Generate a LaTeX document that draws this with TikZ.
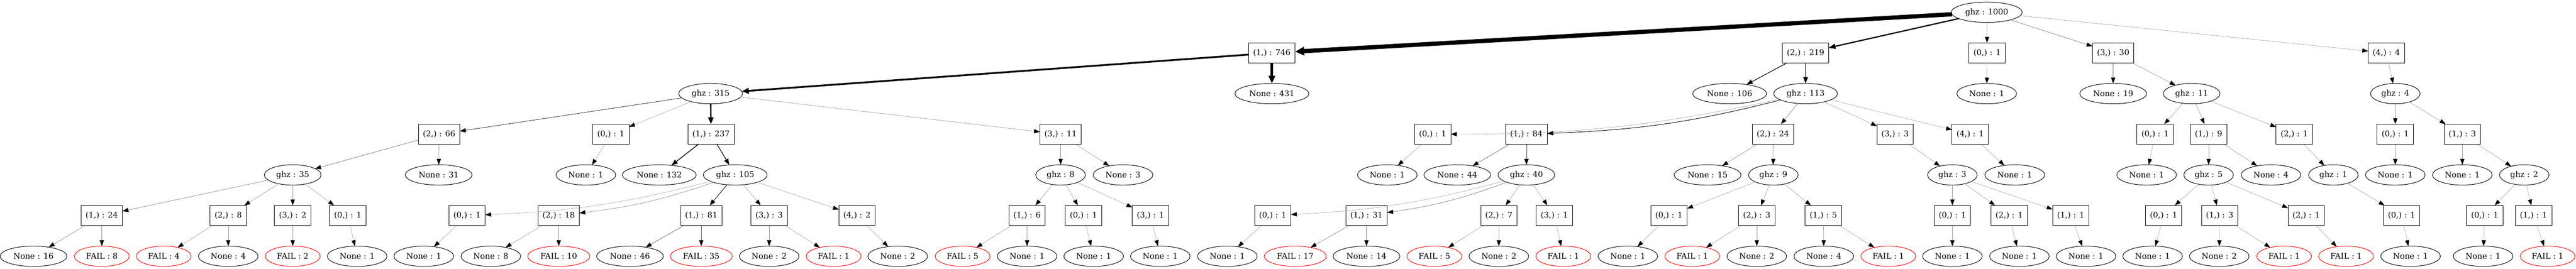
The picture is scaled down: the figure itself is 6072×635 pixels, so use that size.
\documentclass[tikz,border=0pt]{standalone}
\usepackage{fontspec}
\usetikzlibrary{arrows.meta}
\usetikzlibrary{shapes.geometric}
\newfontfamily\gvfont{DejaVu Serif}
\colorlet{failred}{red}

\tikzset{
  gnode/.style={draw, line width=0.9pt, font=\gvfont\fontsize{14pt}{16pt}\selectfont,
    minimum height=36pt, inner ysep=0pt, outer sep=0pt},
  act/.style={gnode, rectangle, inner xsep=8pt, minimum width=54pt},
  res/.style={gnode, ellipse, inner xsep=6.3pt, minimum width=54pt},
  fail/.style={res, draw=failred},
  edge/.style={line width={max(#1/100,0.5)*1pt},
    -{Triangle[length=10pt 0.8, width=7pt 1, color=black]}}
}

\begin{document}
\begin{tikzpicture}[x=0.75pt,y=0.75pt]
    \useasboundingbox (0,0) rectangle (6072,-635);
    % Nodes, rank 0 and 1
    \node[res] (g) at (4683,-29) {ghz : 1000};
    \node[act] (g1) at (2998,-125) {(1,) : 746};
    \node[act] (g2) at (4256,-125) {(2,) : 219};
    \node[act] (g0) at (4684,-125) {(0,) : 1};
    \node[act] (g3) at (4981,-125) {(3,) : 30};
    \node[act] (g4) at (5625,-125) {(4,) : 4};
    % rank 2
    \node[res] (g1g) at (1675,-221) {ghz : 315};
    \node[res] (g1n) at (2998,-221) {None : 431};
    \node[res] (g2n) at (4077,-221) {None : 106};
    \node[res] (g2g) at (4256,-221) {ghz : 113};
    \node[res] (g0n) at (4683,-221) {None : 1};
    \node[res] (g3n) at (4981,-221) {None : 19};
    \node[res] (g3g) at (5166,-221) {ghz : 11};
    \node[res] (g4g) at (5646,-221) {ghz : 4};
    % rank 3
    \node[act] (g1g2) at (1035,-317) {(2,) : 66};
    \node[act] (g1g0) at (1440,-317) {(0,) : 1};
    \node[act] (g1g1) at (1676,-317) {(1,) : 237};
    \node[act] (g1g3) at (2500,-317) {(3,) : 11};
    \node[act] (g2g0) at (3377,-317) {(0,) : 1};
    \node[act] (g2g1) at (3598,-317) {(1,) : 84};
    \node[act] (g2g2) at (4179,-317) {(2,) : 24};
    \node[act] (g2g3) at (4467,-317) {(3,) : 3};
    \node[act] (g2g4) at (4644,-317) {(4,) : 1};
    \node[act] (g3g0) at (5080,-317) {(0,) : 1};
    \node[act] (g3g1) at (5206,-317) {(1,) : 9};
    \node[act] (g3g2) at (5408,-317) {(2,) : 1};
    \node[act] (g4g0) at (5646,-317) {(0,) : 1};
    \node[act] (g4g1) at (5804,-317) {(1,) : 3};
    % rank 4
    \node[res] (g1g2g) at (690,-413) {ghz : 35};
    \node[res] (g1g2n) at (1034,-413) {None : 31};
    \node[res] (g1g0n) at (1381,-413) {None : 1};
    \node[res] (g1g1n) at (1554,-413) {None : 132};
    \node[res] (g1g1g) at (1733,-413) {ghz : 105};
    \node[res] (g1g3g) at (2500,-413) {ghz : 8};
    \node[res] (g1g3n) at (2647,-413) {None : 3};
    \node[res] (g2g0n) at (3270,-413) {None : 1};
    \node[res] (g2g1n) at (3435,-413) {None : 44};
    \node[res] (g2g1g) at (3598,-413) {ghz : 40};
    \node[res] (g2g2n) at (4025,-413) {None : 15};
    \node[res] (g2g2g) at (4180,-413) {ghz : 9};
    \node[res] (g2g3g) at (4602,-413) {ghz : 3};
    \node[res] (g2g4n) at (4749,-413) {None : 1};
    \node[res] (g3g0n) at (5060,-413) {None : 1};
    \node[res] (g3g1g) at (5206,-413) {ghz : 5};
    \node[res] (g3g1n) at (5353,-413) {None : 4};
    \node[res] (g3g2g) at (5500,-413) {ghz : 1};
    \node[res] (g4g0n) at (5646,-413) {None : 1};
    \node[res] (g4g1n) at (5804,-413) {None : 1};
    \node[res] (g4g1g) at (5950,-413) {ghz : 2};
    % rank 5
    \node[act] (g1g2g1) at (240,-509) {(1,) : 24};
    \node[act] (g1g2g2) at (538,-509) {(2,) : 8};
    \node[act] (g1g2g3) at (690,-509) {(3,) : 2};
    \node[act] (g1g2g0) at (820,-509) {(0,) : 1};
    \node[act] (g1g1g0) at (1101,-509) {(0,) : 1};
    \node[act] (g1g1g2) at (1317,-509) {(2,) : 18};
    \node[act] (g1g1g1) at (1653,-509) {(1,) : 81};
    \node[act] (g1g1g3) at (1813,-509) {(3,) : 3};
    \node[act] (g1g1g4) at (2020,-509) {(4,) : 2};
    \node[act] (g1g3g1) at (2421,-509) {(1,) : 6};
    \node[act] (g1g3g0) at (2554,-509) {(0,) : 1};
    \node[act] (g1g3g3) at (2712,-509) {(3,) : 1};
    \node[act] (g2g1g0) at (3000,-509) {(0,) : 1};
    \node[act] (g2g1g1) at (3221,-509) {(1,) : 31};
    \node[act] (g2g1g2) at (3533,-509) {(2,) : 7};
    \node[act] (g2g1g3) at (3664,-509) {(3,) : 1};
    \node[act] (g2g2g0) at (3934,-509) {(0,) : 1};
    \node[act] (g2g2g2) at (4141,-509) {(2,) : 3};
    \node[act] (g2g2g1) at (4298,-509) {(1,) : 5};
    \node[act] (g2g3g0) at (4602,-509) {(0,) : 1};
    \node[act] (g2g3g2) at (4736,-509) {(2,) : 1};
    \node[act] (g2g3g1) at (4881,-509) {(1,) : 1};
    \node[act] (g3g1g0) at (5100,-509) {(0,) : 1};
    \node[act] (g3g1g1) at (5232,-509) {(1,) : 3};
    \node[act] (g3g1g2) at (5436,-509) {(2,) : 1};
    \node[act] (g3g2g0) at (5661,-509) {(0,) : 1};
    \node[act] (g4g1g0) at (5857,-509) {(0,) : 1};
    \node[act] (g4g1g1) at (5972,-509) {(1,) : 1};
    % rank 6
    \node[res]  (g1g2g1n) at (79,-605) {None : 16};
    \node[fail] (g1g2g1f) at (240,-605) {FAIL : 8};
    \node[fail] (g1g2g2f) at (386,-605) {FAIL : 4};
    \node[res]  (g1g2g2n) at (538,-605) {None : 4};
    \node[fail] (g1g2g3f) at (690,-605) {FAIL : 2};
    \node[res]  (g1g2g0n) at (842,-605) {None : 1};
    \node[res]  (g1g1g0n) at (999,-605) {None : 1};
    \node[res]  (g1g1g2n) at (1157,-605) {None : 8};
    \node[fail] (g1g1g2f) at (1317,-605) {FAIL : 10};
    \node[res]  (g1g1g1n) at (1485,-605) {None : 46};
    \node[fail] (g1g1g1f) at (1653,-605) {FAIL : 35};
    \node[res]  (g1g1g3n) at (1813,-605) {None : 2};
    \node[fail] (g1g1g3f) at (1965,-605) {FAIL : 1};
    \node[res]  (g1g1g4n) at (2116,-605) {None : 2};
    \node[fail] (g1g3g1f) at (2269,-605) {FAIL : 5};
    \node[res]  (g1g3g1n) at (2421,-605) {None : 1};
    \node[res]  (g1g3g0n) at (2578,-605) {None : 1};
    \node[res]  (g1g3g3n) at (2735,-605) {None : 1};
    \node[res]  (g2g1g0n) at (2893,-605) {None : 1};
    \node[fail] (g2g1g1f) at (3053,-605) {FAIL : 17};
    \node[res]  (g2g1g1n) at (3221,-605) {None : 14};
    \node[fail] (g2g1g2f) at (3381,-605) {FAIL : 5};
    \node[res]  (g2g1g2n) at (3533,-605) {None : 2};
    \node[fail] (g2g1g3f) at (3685,-605) {FAIL : 1};
    \node[res]  (g2g2g0n) at (3837,-605) {None : 1};
    \node[fail] (g2g2g2f) at (3989,-605) {FAIL : 1};
    \node[res]  (g2g2g2n) at (4141,-605) {None : 2};
    \node[res]  (g2g2g1n) at (4299,-605) {None : 4};
    \node[fail] (g2g2g1f) at (4451,-605) {FAIL : 1};
    \node[res]  (g2g3g0n) at (4602,-605) {None : 1};
    \node[res]  (g2g3g2n) at (4760,-605) {None : 1};
    \node[res]  (g2g3g1n) at (4917,-605) {None : 1};
    \node[res]  (g3g1g0n) at (5074,-605) {None : 1};
    \node[res]  (g3g1g1n) at (5231,-605) {None : 2};
    \node[fail] (g3g1g1f) at (5384,-605) {FAIL : 1};
    \node[fail] (g3g1g2f) at (5530,-605) {FAIL : 1};
    \node[res]  (g3g2g0n) at (5682,-605) {None : 1};
    \node[res]  (g4g1g0n) at (5853,-605) {None : 1};
    \node[fail] (g4g1g1f) at (6005,-605) {FAIL : 1};
    % Edges (parent/child/count)
    \foreach \a/\b/\c [evaluate=\c as \k using {int(min(100,40+0.8*\c))}] in {
      g/g1/746, g/g2/219, g/g0/1, g/g3/30, g/g4/4,
      g1/g1g/315, g1/g1n/431, g2/g2n/106, g2/g2g/113, g0/g0n/1,
      g3/g3n/19, g3/g3g/11, g4/g4g/4,
      g1g/g1g2/66, g1g/g1g0/1, g1g/g1g1/237, g1g/g1g3/11,
      g2g/g2g2/24, g2g/g2g3/3, g2g/g2g4/1,
      g3g/g3g0/1, g3g/g3g1/9, g3g/g3g2/1, g4g/g4g0/1, g4g/g4g1/3,
      g1g2/g1g2g/35, g1g2/g1g2n/31, g1g0/g1g0n/1, g1g1/g1g1n/132,
      g1g1/g1g1g/105, g1g3/g1g3g/8, g1g3/g1g3n/3,
      g2g0/g2g0n/1, g2g1/g2g1n/44, g2g1/g2g1g/40, g2g2/g2g2n/15,
      g2g2/g2g2g/9, g2g3/g2g3g/3, g2g4/g2g4n/1,
      g3g0/g3g0n/1, g3g1/g3g1g/5, g3g1/g3g1n/4, g3g2/g3g2g/1,
      g4g0/g4g0n/1, g4g1/g4g1n/1, g4g1/g4g1g/2,
      g1g2g/g1g2g1/24, g1g2g/g1g2g2/8, g1g2g/g1g2g3/2, g1g2g/g1g2g0/1,
      g1g1g/g1g1g1/81, g1g1g/g1g1g3/3, g1g1g/g1g1g4/2,
      g1g3g/g1g3g1/6, g1g3g/g1g3g0/1, g1g3g/g1g3g3/1,
      g2g1g/g2g1g2/7, g2g1g/g2g1g3/1,
      g2g2g/g2g2g0/1, g2g2g/g2g2g2/3, g2g2g/g2g2g1/5,
      g2g3g/g2g3g0/1, g2g3g/g2g3g2/1, g2g3g/g2g3g1/1,
      g3g1g/g3g1g0/1, g3g1g/g3g1g1/3, g3g1g/g3g1g2/1, g3g2g/g3g2g0/1,
      g4g1g/g4g1g0/1, g4g1g/g4g1g1/1,
      g1g2g1/g1g2g1n/16, g1g2g1/g1g2g1f/8, g1g2g2/g1g2g2f/4,
      g1g2g2/g1g2g2n/4, g1g2g3/g1g2g3f/2, g1g2g0/g1g2g0n/1,
      g1g1g0/g1g1g0n/1, g1g1g2/g1g1g2n/8, g1g1g2/g1g1g2f/10,
      g1g1g1/g1g1g1n/46, g1g1g1/g1g1g1f/35, g1g1g3/g1g1g3n/2,
      g1g1g3/g1g1g3f/1, g1g1g4/g1g1g4n/2,
      g1g3g1/g1g3g1f/5, g1g3g1/g1g3g1n/1, g1g3g0/g1g3g0n/1, g1g3g3/g1g3g3n/1,
      g2g1g0/g2g1g0n/1, g2g1g1/g2g1g1f/17, g2g1g1/g2g1g1n/14,
      g2g1g2/g2g1g2f/5, g2g1g2/g2g1g2n/2, g2g1g3/g2g1g3f/1,
      g2g2g0/g2g2g0n/1, g2g2g2/g2g2g2f/1, g2g2g2/g2g2g2n/2,
      g2g2g1/g2g2g1n/4, g2g2g1/g2g2g1f/1,
      g2g3g0/g2g3g0n/1, g2g3g2/g2g3g2n/1, g2g3g1/g2g3g1n/1,
      g3g1g0/g3g1g0n/1, g3g1g1/g3g1g1n/2, g3g1g1/g3g1g1f/1, g3g1g2/g3g1g2f/1,
      g3g2g0/g3g2g0n/1, g4g1g0/g4g1g0n/1, g4g1g1/g4g1g1f/1}
      \draw[edge=\c, draw=black!\k] (\a) -- (\b);
    % long edges that sag to the left
    \foreach \a/\b/\c [evaluate=\c as \k using {int(min(100,40+0.8*\c))}] in {
      g2g/g2g0/1, g2g/g2g1/84, g1g1g/g1g1g0/1, g1g1g/g1g1g2/18,
      g2g1g/g2g1g0/1, g2g1g/g2g1g1/31}
      \draw[edge=\c, draw=black!\k] (\a) to[bend left=6] (\b);
\end{tikzpicture}
\end{document}
